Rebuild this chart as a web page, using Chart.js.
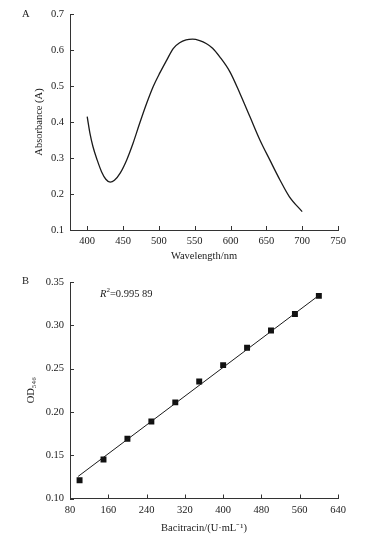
<!DOCTYPE html>
<html>
<head>
<meta charset="utf-8">
<script src="https://cdn.jsdelivr.net/npm/chart.js@4.4.1/dist/chart.umd.min.js"></script>
<style>
  html, body { margin: 0; padding: 0; background: #fff; }
  body { width: 375px; height: 542px; position: relative; overflow: hidden; }
  canvas { position: absolute; left: 0; }
  #chartA { top: 0; }
  #chartB { top: 268px; }
</style>
</head>
<body>
<canvas id="chartA" width="375" height="268"></canvas>
<canvas id="chartB" width="375" height="274"></canvas>
<script>
// Panel A: absorption spectrum
const wavelength = [400, 404, 408, 414, 420, 426, 432, 438, 446, 455, 464, 473, 483, 492, 501, 511,
  520, 529, 538, 547, 557, 566, 575, 585, 599, 613, 627, 641, 655, 669, 682, 700];
const absorbance = [0.415, 0.367, 0.332, 0.294, 0.262, 0.241, 0.233, 0.238, 0.258, 0.294, 0.341, 0.395,
  0.452, 0.498, 0.535, 0.572, 0.604, 0.620, 0.628, 0.630, 0.626, 0.618, 0.605, 0.581, 0.540, 0.480,
  0.415, 0.350, 0.294, 0.239, 0.193, 0.151];
const xTicksA = [400, 450, 500, 550, 600, 650, 700, 750];
const yTicksA = [0.1, 0.2, 0.3, 0.4, 0.5, 0.6, 0.7];

// Panel B: standard curve
const bacitracin = [100, 150, 200, 250, 300, 350, 400, 450, 500, 550, 600];
const od546 = [0.121, 0.145, 0.169, 0.189, 0.211, 0.235, 0.254, 0.274, 0.294, 0.313, 0.334];
const fitX = [97, 600];
const fitY = [0.1255, 0.3345];
const xTicksB = [80, 160, 240, 320, 400, 480, 560, 640];
const yTicksB = [0.10, 0.15, 0.20, 0.25, 0.30, 0.35];

const ink = '#1a1a1a';
const axisColor = '#333';
const serif = "'Liberation Serif', 'Times New Roman', serif";

Chart.defaults.font.family = serif;
Chart.defaults.font.size = 10.5;
Chart.defaults.color = ink;

// ticks drawn inward, like the original figure
const innerTicks = {
  id: 'innerTicks',
  afterDraw(chart) {
    const { ctx, chartArea: a, scales: { x, y } } = chart;
    ctx.save();
    ctx.strokeStyle = axisColor;
    ctx.lineWidth = 1;
    ctx.beginPath();
    x.ticks.forEach(t => {
      const p = Math.round(x.getPixelForValue(t.value)) + 0.5;
      ctx.moveTo(p, a.bottom);
      ctx.lineTo(p, a.bottom - 4);
    });
    y.ticks.forEach(t => {
      const p = Math.round(y.getPixelForValue(t.value)) + 0.5;
      ctx.moveTo(a.left, p);
      ctx.lineTo(a.left + 4, p);
    });
    ctx.stroke();
    ctx.restore();
  }
};

// panel letter and optional R² note
const panelText = {
  id: 'panelText',
  afterDraw(chart, args, opts) {
    const ctx = chart.ctx;
    ctx.save();
    ctx.fillStyle = ink;
    ctx.textBaseline = 'middle';
    ctx.font = '10.5px ' + serif;
    ctx.fillText(opts.letter, opts.lx, opts.ly);
    if (opts.r2) {
      let x = opts.rx;
      const y = opts.ry;
      ctx.font = 'italic 10.5px ' + serif;
      ctx.fillText('R', x, y);
      x += ctx.measureText('R').width;
      ctx.font = '7px ' + serif;
      ctx.fillText('2', x, y - 4);
      x += ctx.measureText('2').width;
      ctx.font = '10.5px ' + serif;
      ctx.fillText(opts.r2, x, y);
    }
    ctx.restore();
  }
};

function axis(ticks, digits, width, height, title, titlePad, tickPad, min, max) {
  return {
    type: 'linear',
    min: min,
    max: max,
    afterBuildTicks: scale => { scale.ticks = ticks.map(v => ({ value: v })); },
    afterFit: scale => {
      if (width) scale.width = width;
      if (height) scale.height = height;
    },
    grid: { display: true, drawOnChartArea: false, drawTicks: false },
    border: { display: true, color: axisColor, width: 1 },
    ticks: {
      padding: tickPad,
      color: ink,
      callback: v => v.toFixed(digits)
    },
    title: { display: true, text: title, color: ink, padding: titlePad, font: { size: 10.5 } }
  };
}

new Chart(document.getElementById('chartA'), {
  type: 'scatter',
  data: {
    datasets: [{
      data: wavelength.map((w, i) => ({ x: w, y: absorbance[i] })),
      showLine: true,
      borderColor: ink,
      borderWidth: 1.3,
      pointRadius: 0,
      cubicInterpolationMode: 'monotone'
    }]
  },
  options: {
    responsive: false,
    animation: false,
    layout: { padding: { top: 14, right: 37, left: 0, bottom: 0 } },
    plugins: {
      legend: { display: false },
      tooltip: { enabled: false },
      panelText: { letter: 'A', lx: 22, ly: 14 }
    },
    scales: {
      x: axis(xTicksA, 0, 0, 38, 'Wavelength/nm', { top: 0, bottom: 5 }, 5, 376, 750),
      y: axis(yTicksA, 1, 70, 0, 'Absorbance (A)', { top: 33, bottom: 0 }, 6, 0.1, 0.7)
    }
  },
  plugins: [innerTicks, panelText]
});

new Chart(document.getElementById('chartB'), {
  type: 'scatter',
  data: {
    datasets: [{
      data: fitX.map((v, i) => ({ x: v, y: fitY[i] })),
      showLine: true,
      borderColor: ink,
      borderWidth: 1,
      pointRadius: 0
    }, {
      data: bacitracin.map((v, i) => ({ x: v, y: od546[i] })),
      pointStyle: 'rect',
      pointRadius: 4.2,
      backgroundColor: '#111',
      borderColor: '#111',
      borderWidth: 0
    }]
  },
  options: {
    responsive: false,
    animation: false,
    layout: { padding: { top: 14, right: 37, left: 0, bottom: 0 } },
    plugins: {
      legend: { display: false },
      tooltip: { enabled: false },
      panelText: { letter: 'B', lx: 22, ly: 13, r2: '=0.995 89', rx: 100, ry: 26 }
    },
    scales: {
      x: axis(xTicksB, 0, 0, 43.5, 'Bacitracin/(U·mL⁻¹)', { top: 0, bottom: 7 }, 5, 80, 640),
      y: axis(yTicksB, 2, 70, 0, 'OD₅₄₆', { top: 25, bottom: 0 }, 6, 0.10, 0.35)
    }
  },
  plugins: [innerTicks, panelText]
});
</script>
</body>
</html>
